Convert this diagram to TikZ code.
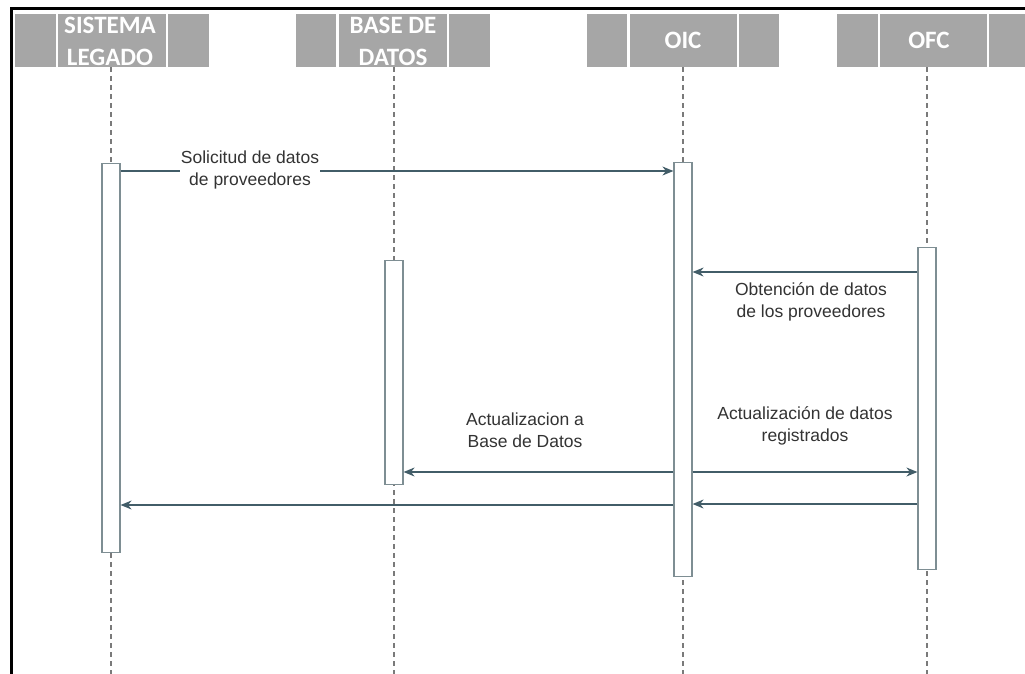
\documentclass[tikz,border=0pt]{standalone}
\usepackage{fontspec}
\setmainfont{Liberation Sans}
\newfontfamily\hfont{Carlito}
\usetikzlibrary{arrows.meta}
\definecolor{hgray}{HTML}{A6A6A6}
\definecolor{arrowc}{HTML}{425D68}
\definecolor{boxc}{HTML}{7E8E93}
\definecolor{lifec}{HTML}{7A7A7A}
\definecolor{txtc}{HTML}{333333}
\pgfdeclarelayer{paper}
\pgfdeclarelayer{bg}
\pgfsetlayers{paper,bg,main}
\begin{document}
\begin{tikzpicture}[x=1pt,y=-1pt,
  hcell/.style={fill=hgray, draw=none, inner sep=0pt, minimum height=53pt},
  htext/.style={text=white, font=\hfont\bfseries\fontsize{25}{32}\selectfont, align=center, inner sep=0pt},
  act/.style={draw=boxc, fill=white, line width=1.2pt, minimum width=18pt, inner sep=0pt, anchor=north},
  life/.style={draw=lifec, dash pattern=on 5pt off 4pt, line width=1.1pt},
  msg/.style={draw=arrowc, line width=1.3pt, -{Stealth[length=11pt,width=9pt]}},
  lbl/.style={font=\fontsize{17.5}{22.5}\selectfont, text=txtc, align=center, inner sep=1pt},
  frame/.style={draw=black, line width=3pt}]
\useasboundingbox (0,0) rectangle (1025,673);
\clip (0,0) rectangle (1025,673);
\begin{pgfonlayer}{paper}
\fill[white] (0,0) rectangle (1025,673);
\end{pgfonlayer}

% outer frame
\coordinate (fbl) at (11.5,680);
\coordinate (ftl) at (11.5,8.5);
\coordinate (ftr) at (1030,8.5);
\draw[frame] (fbl) -- (ftl) -- (ftr);

% headers
\node[hcell, minimum width=41pt] (slL) at (35.5,40.5) {};
\node[hcell, minimum width=108pt] (slM) at (112,40.5) {};
\node[hcell, minimum width=41pt] (slR) at (188.5,40.5) {};
\node[htext] (slT) at (110,41) {SISTEMA\\LEGADO};

\node[hcell, minimum width=40pt] (bdL) at (316,40.5) {};
\node[hcell, minimum width=108pt] (bdM) at (393,40.5) {};
\node[hcell, minimum width=41pt] (bdR) at (469.5,40.5) {};
\node[htext] (bdT) at (393,41) {BASE DE\\DATOS};

\node[hcell, minimum width=40pt] (oiL) at (607,40.5) {};
\node[hcell, minimum width=107pt] (oiM) at (683.5,40.5) {};
\node[hcell, minimum width=40pt] (oiR) at (759,40.5) {};
\node[htext] (oiT) at (683,40) {OIC};

\node[hcell, minimum width=41pt] (ofL) at (857.5,40.5) {};
\node[hcell, minimum width=107pt] (ofM) at (933.5,40.5) {};
\node[hcell, minimum width=41pt] (ofR) at (1009.5,40.5) {};
\node[htext] (ofT) at (929,40) {OFC};

% activation boxes
\node[act, minimum height=389pt] (slA) at (111,163) {};
\node[act, minimum height=224pt] (bdA) at (394,260) {};
\node[act, minimum height=414pt] (oiA) at (683,162) {};
\node[act, minimum height=322pt] (ofA) at (927,247) {};

% lifelines
\coordinate (bot) at (0,680);
\begin{pgfonlayer}{bg}
\draw[life] (slA.north |- slM.south) -- (slA.north |- bot);
\draw[life] (bdA.north |- bdM.south) -- (bdA.north |- bot);
\draw[life] (oiA.north |- oiM.south) -- (oiA.north |- bot);
\draw[life] (ofA.north |- ofM.south) -- (ofA.north |- bot);
\end{pgfonlayer}

% message levels
\coordinate (y1) at (0,171);
\coordinate (y2) at (0,272);
\coordinate (y3) at (0,472);
\coordinate (y4) at (0,504);
\coordinate (y5) at (0,505);

\draw[msg] (slA.east |- y1) -- (oiA.west |- y1);
\node[lbl, fill=white] (l1) at (250,170) {Solicitud de datos\\de proveedores};

\draw[msg] (ofA.west |- y2) -- (oiA.east |- y2);
\node[lbl] (l2) at (811,302) {Obtención de datos\\de los proveedores};

\draw[msg] (oiA.west |- y3) -- (bdA.east |- y3);
\node[lbl] (l3) at (525,430) {Actualizacion a\\Base de Datos};

\draw[msg] (oiA.east |- y3) -- (ofA.west |- y3);
\node[lbl] (l4) at (805,426) {Actualización de datos\\registrados};

\draw[msg] (ofA.west |- y4) -- (oiA.east |- y4);
\draw[msg] (oiA.west |- y5) -- (slA.east |- y5);
\end{tikzpicture}
\end{document}
